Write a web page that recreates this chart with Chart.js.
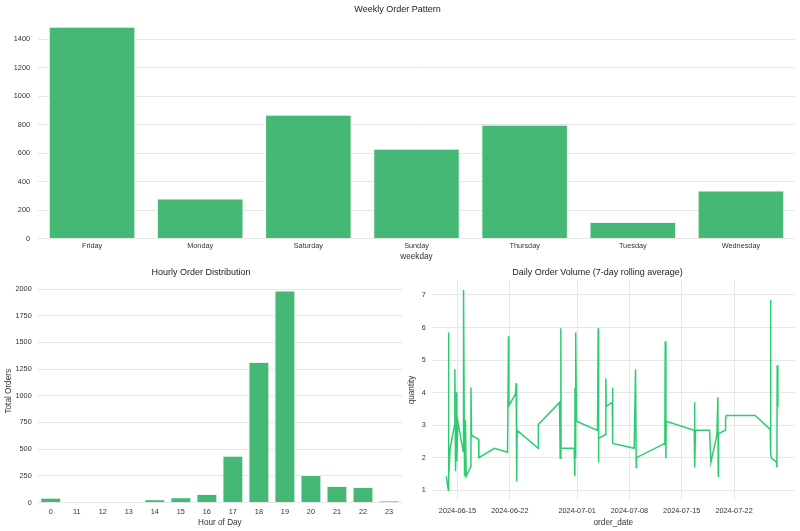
<!DOCTYPE html>
<html>
<head>
<meta charset="utf-8">
<script src="https://cdn.jsdelivr.net/npm/chart.js@4.4.1/dist/chart.umd.min.js"></script>
<style>
    body { margin: 0; background: #fff; width: 800px; height: 531px; position: relative; overflow: hidden; }
    canvas { position: absolute; }
    #weekChart { left: 0; top: 0; }
    #hourChart { left: 0; top: 262px; }
    #dailyChart { left: 400px; top: 262px; }
</style>
</head>
<body>
<canvas id="weekChart" width="800" height="262"></canvas>
<canvas id="hourChart" width="405" height="269"></canvas>
<canvas id="dailyChart" width="400" height="269"></canvas>
<script>
// Weekly pattern
const weekdays = ['Friday', 'Monday', 'Saturday', 'Sunday', 'Thursday', 'Tuesday', 'Wednesday'];
const weekdayOrders = [1488, 281, 869, 630, 799, 116, 338];
const weekTicks = [0, 200, 400, 600, 800, 1000, 1200, 1400];

// Hourly distribution
const hours = ['0', '11', '12', '13', '14', '15', '16', '17', '18', '19', '20', '21', '22', '23'];
const hourlyOrders = [45, 5, 3, 4, 30, 49, 80, 437, 1316, 1986, 258, 155, 146, 14];
const hourTicks = [0, 250, 500, 750, 1000, 1250, 1500, 1750, 2000];

// Daily rolling average (x = days after 2024-06-01)
const orderDays = [12.49, 12.78, 12.80, 12.84, 13.02, 13.60, 13.65, 13.74, 13.87, 13.90, 14.05, 14.76, 14.81, 14.94, 15.07, 15.16,
    15.79, 15.80, 15.88, 16.81, 16.86, 18.95, 20.69, 20.83, 20.87, 21.76, 21.85, 21.92, 21.98, 24.80, 24.81, 27.65, 27.74,
    27.83, 27.85, 29.61, 29.70, 29.72, 29.78, 29.84, 29.92, 32.73, 32.82, 32.86, 32.91, 33.80, 33.85, 33.89, 34.70, 34.74,
    34.79, 37.64, 37.82, 37.91, 37.95, 41.74, 41.79, 41.88, 41.92, 45.67, 45.71, 45.76, 45.84, 47.72, 47.90, 48.70, 48.83,
    48.88, 48.92, 49.81, 49.86, 49.95, 53.83, 55.83, 55.88, 55.92, 56.01, 56.64, 56.73, 56.77, 56.86];
const rollingQty = [1.43, 1.0, 5.85, 1.43, 2.29, 3.0, 4.72, 1.58, 4.01, 1.88, 3.10, 2.19, 7.15, 1.43, 3.15, 1.43,
    1.73, 4.16, 2.69, 2.56, 2.00, 2.29, 2.17, 5.73, 3.60, 3.96, 4.29, 1.27, 2.84, 2.29, 3.02, 3.70, 1.98,
    5.98, 2.29, 2.29, 1.43, 4.16, 2.0, 5.85, 3.12, 2.84, 5.98, 1.85, 2.59, 2.71, 4.43, 3.58, 3.70, 4.16,
    2.44, 2.29, 4.72, 1.70, 2.0, 2.44, 5.58, 1.98, 3.12, 2.84, 3.70, 1.70, 2.84, 2.84, 1.86, 2.69, 3.86,
    1.43, 2.74, 2.84, 3.15, 3.30, 3.30, 2.87, 6.85, 2.13, 1.98, 1.88, 1.70, 4.84, 3.55];
const dateTickDays = [14, 21, 30, 37, 44, 51];
const dateTickLabels = ['2024-06-15', '2024-06-22', '2024-07-01', '2024-07-08', '2024-07-15', '2024-07-22'];
const qtyTicks = [1, 2, 3, 4, 5, 6, 7];

Chart.defaults.font.family = '"Liberation Sans", Arial, sans-serif';
Chart.defaults.color = '#333';

const barColor = '#44b874';
const gridColor = '#e6e6e6';
const tickFont = { size: 7.3 };
const titleFont = { size: 9, weight: 'normal' };
const axisTitleFont = { size: 8.2 };

function fixedTicks(values) {
    return function(scale) {
        scale.ticks = values.map(v => ({ value: v }));
    };
}

function plainNumber(value) {
    return String(value);
}

// Weekly Order Pattern
new Chart(document.getElementById('weekChart'), {
    type: 'bar',
    data: {
        labels: weekdays,
        datasets: [{
            data: weekdayOrders,
            backgroundColor: barColor,
            borderColor: 'rgba(230,245,235,0.9)',
            borderWidth: 1,
            barPercentage: 0.8,
            categoryPercentage: 1.0
        }]
    },
    options: {
        responsive: false,
        animation: false,
        layout: { padding: { left: 0, right: 5, top: 0, bottom: 0 } },
        plugins: {
            legend: { display: false },
            tooltip: { enabled: false },
            title: {
                display: true,
                text: 'Weekly Order Pattern',
                font: titleFont,
                color: '#222',
                padding: { top: 4, bottom: 1 }
            }
        },
        scales: {
            x: {
                grid: { display: false, drawTicks: false },
                border: { display: false },
                ticks: { font: tickFont, padding: 3 },
                title: { display: true, text: 'weekday', font: axisTitleFont, padding: 0 },
                afterFit: function(scale) { scale.height = 262 - 238.5; }
            },
            y: {
                min: 0,
                max: 1565,
                grid: { color: gridColor, drawTicks: false },
                border: { display: false },
                ticks: { font: tickFont, padding: 8, callback: plainNumber },
                afterBuildTicks: fixedTicks(weekTicks),
                afterFit: function(scale) { scale.width = 38; }
            }
        }
    }
});

// Hourly Order Distribution
new Chart(document.getElementById('hourChart'), {
    type: 'bar',
    data: {
        labels: hours,
        datasets: [{
            data: hourlyOrders,
            backgroundColor: barColor,
            borderColor: 'rgba(230,245,235,0.9)',
            borderWidth: 1,
            barPercentage: 0.8,
            categoryPercentage: 1.0
        }]
    },
    options: {
        responsive: false,
        animation: false,
        layout: { padding: { left: 0, right: 3, top: 0, bottom: 0 } },
        plugins: {
            legend: { display: false },
            tooltip: { enabled: false },
            title: {
                display: true,
                text: 'Hourly Order Distribution',
                font: titleFont,
                color: '#222',
                padding: { top: 5.6, bottom: 1.6 }
            }
        },
        scales: {
            x: {
                grid: { display: false, drawTicks: false },
                border: { display: false },
                ticks: { font: tickFont, padding: 5 },
                title: { display: true, text: 'Hour of Day', font: axisTitleFont, padding: { top: 0, bottom: 3 } },
                afterFit: function(scale) { scale.height = 28.5; }
            },
            y: {
                min: 0,
                max: 2085,
                grid: { color: gridColor, drawTicks: false },
                border: { display: false },
                ticks: { font: tickFont, padding: 6, callback: plainNumber },
                title: { display: true, text: 'Total Orders', font: axisTitleFont, padding: { top: 4, bottom: 0 } },
                afterBuildTicks: fixedTicks(hourTicks),
                afterFit: function(scale) { scale.width = 37.7; }
            }
        }
    }
});

// Daily Order Volume
const dailyPoints = orderDays.map((d, i) => ({ x: d, y: rollingQty[i] }));

new Chart(document.getElementById('dailyChart'), {
    type: 'line',
    data: {
        datasets: [{
            data: dailyPoints,
            borderColor: '#2ecc71',
            borderWidth: 1.5,
            pointRadius: 0,
            tension: 0,
            fill: false
        }]
    },
    options: {
        responsive: false,
        animation: false,
        layout: { padding: { left: 0, right: 5, top: 0, bottom: 0 } },
        plugins: {
            legend: { display: false },
            tooltip: { enabled: false },
            title: {
                display: true,
                text: 'Daily Order Volume (7-day rolling average)',
                font: titleFont,
                color: '#222',
                padding: { top: 5.6, bottom: 1.6 }
            }
        },
        scales: {
            x: {
                type: 'linear',
                min: 10.55,
                max: 59.15,
                grid: { color: gridColor, drawTicks: false },
                border: { display: false },
                ticks: {
                    font: tickFont,
                    padding: 7,
                    maxRotation: 0,
                    autoSkip: false,
                    callback: function(value) {
                        const i = dateTickDays.indexOf(value);
                        return i >= 0 ? dateTickLabels[i] : '';
                    }
                },
                title: { display: true, text: 'order_date', font: axisTitleFont, padding: { top: 0, bottom: 3 } },
                afterBuildTicks: fixedTicks(dateTickDays),
                afterFit: function(scale) { scale.height = 31; }
            },
            y: {
                min: 0.7,
                max: 7.46,
                grid: { color: gridColor, drawTicks: false },
                border: { display: false },
                ticks: { font: tickFont, padding: 6 },
                title: { display: true, text: 'quantity', font: axisTitleFont, padding: { top: 7, bottom: 0 } },
                afterBuildTicks: fixedTicks(qtyTicks),
                afterFit: function(scale) { scale.width = 31.7; }
            }
        }
    }
});
</script>
</body>
</html>
